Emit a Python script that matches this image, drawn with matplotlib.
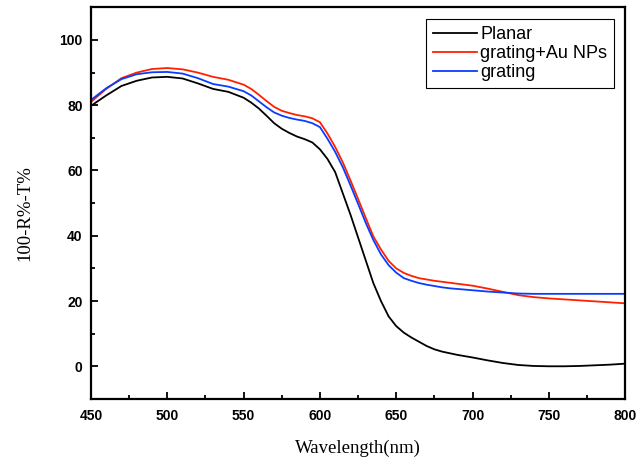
import numpy as np
import matplotlib
matplotlib.use("Agg")
import matplotlib.pyplot as plt
from matplotlib.ticker import MultipleLocator

wavelength = [450, 460, 470, 480, 490, 500, 510, 520, 530, 540,
              550, 555, 560, 565, 570, 575, 580, 585, 590, 595,
              600, 605, 610, 615, 620, 625, 630, 635, 640, 645,
              650, 655, 660, 665, 670, 675, 680, 685, 690, 695,
              700, 710, 720, 730, 740, 750, 760, 770, 780, 790, 800]

planar = [79.8, 83.0, 85.9, 87.5, 88.5, 88.7, 88.2, 86.7, 85.0, 84.1,
          82.3, 80.8, 79.0, 76.8, 74.5, 72.8, 71.5, 70.4, 69.6, 68.6,
          66.5, 63.5, 59.5, 53.0, 46.5, 39.5, 32.5, 25.5, 20.0, 15.3,
          12.3, 10.3, 8.8, 7.5, 6.2, 5.2, 4.5, 4.0, 3.5, 3.1,
          2.7, 1.8, 1.0, 0.4, 0.1, 0.0, 0.0, 0.1, 0.3, 0.5, 0.8]

grating_au = [81.0, 85.0, 88.3, 90.0, 91.1, 91.4, 91.0, 90.0, 88.7, 87.8,
              86.3, 85.0, 83.2, 81.3, 79.5, 78.3, 77.6, 77.0, 76.6, 76.0,
              74.8, 71.3, 67.2, 62.5, 57.0, 51.3, 45.5, 39.8, 35.8, 32.3,
              30.0, 28.6, 27.7, 27.0, 26.6, 26.2, 25.9, 25.6, 25.3, 25.0,
              24.7, 23.8, 22.8, 21.8, 21.2, 20.8, 20.5, 20.2, 19.9, 19.6, 19.3]

grating = [81.6, 85.2, 88.0, 89.5, 90.1, 90.2, 89.7, 88.3, 86.5, 85.7,
           84.3, 83.0, 81.2, 79.4, 77.8, 76.8, 76.1, 75.6, 75.2, 74.5,
           73.3, 69.7, 65.7, 61.0, 55.5, 49.8, 44.0, 38.7, 34.3, 31.0,
           28.7, 27.0, 26.2, 25.5, 25.0, 24.6, 24.2, 23.9, 23.7, 23.5,
           23.3, 22.9, 22.6, 22.3, 22.2, 22.2, 22.2, 22.2, 22.2, 22.2, 22.2]

labels = ["Planar", "grating+Au NPs", "grating"]
colors = ["black", "#ff2000", "#0a3cff"]

fig = plt.figure(figsize=(6.36, 4.58), dpi=100)
ax = fig.add_axes([0.143, 0.129, 0.84, 0.855])

for y, lab, c in zip([planar, grating_au, grating], labels, colors):
    ax.plot(wavelength, y, color=c, lw=1.3, label=lab)

ax.set_xlim(450, 800)
ax.set_ylim(-10, 110)
ax.xaxis.set_major_locator(MultipleLocator(50))
ax.xaxis.set_minor_locator(MultipleLocator(25))
ax.yaxis.set_minor_locator(MultipleLocator(10))
ax.set_yticks([0, 20, 40, 60, 80, 100])

ax.tick_params(which="both", direction="in", top=False, right=False, width=1.3)
ax.tick_params(which="major", length=5)
ax.tick_params(which="minor", length=3)
ax.tick_params(axis="x", pad=7)
ax.tick_params(axis="y", pad=6)
for lbl in ax.get_xticklabels() + ax.get_yticklabels():
    lbl.set_fontfamily("Liberation Sans")
    lbl.set_fontweight("bold")
    lbl.set_fontsize(10)
for s in ax.spines.values():
    s.set_linewidth(1.6)

ax.set_xlabel("Wavelength(nm)", fontfamily="Liberation Serif", fontsize=13.5, labelpad=12)
ax.set_ylabel("100-R%-T%", fontfamily="Liberation Serif", fontsize=13.5)
ax.yaxis.set_label_coords(-0.108, 0.475)

leg = ax.legend(loc="upper right", bbox_to_anchor=(0.99, 0.985), fancybox=False, framealpha=1,
                edgecolor="black", prop={"family": "Liberation Sans", "size": 13},
                handlelength=2.4, handletextpad=0.2, borderpad=0.4, labelspacing=0.12,
                borderaxespad=0.3)
leg.get_frame().set_linewidth(0.8)

fig.savefig("out.png", dpi=100)
